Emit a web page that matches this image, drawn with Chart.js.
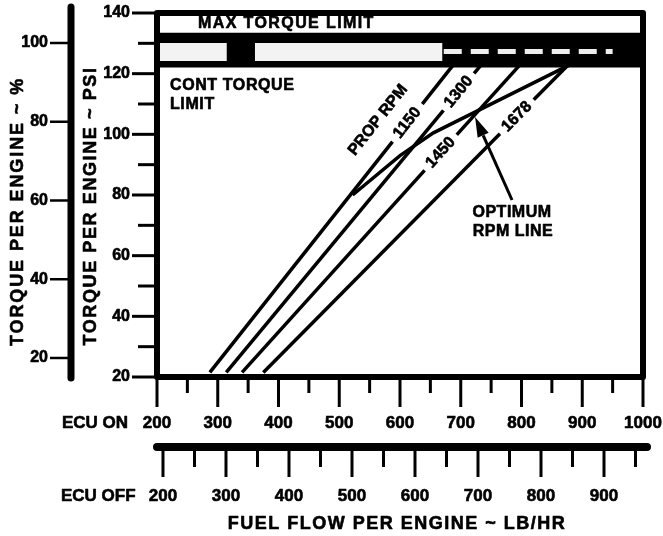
<!DOCTYPE html>
<html>
<head>
<meta charset="utf-8">
<script src="https://cdn.jsdelivr.net/npm/chart.js@4.4.0/dist/chart.umd.min.js"></script>
<style>
  html, body { margin: 0; padding: 0; background: #fff; }
  #wrap { width: 663px; height: 536px; }
</style>
</head>
<body>
<div id="wrap"><canvas id="chart"></canvas></div>
<script>
// prop rpm lines: fuel flow (lb/hr, ECU ON) vs torque (psi), end points
var rpmNames = ['1150', '1300', '1450', '1678'];
var rpmFlowLow = [287, 314, 340, 375];
var rpmFlowHigh = [690, 736, 800, 880];
var rpmTorqueLow = [21.5, 21.5, 21.5, 21.5];
var rpmTorqueHigh = [123.5, 123.5, 123.5, 123.5];

var optimumFlow = [522, 600, 655, 720, 880];
var optimumTorque = [80, 93, 100.5, 107, 123];

// torque limits (psi)
var maxTorqueLimit = 133.5;
var contTorqueLimit = 122;
var stripeFlowFrom = [204, 361];
var stripeFlowTo = [315, 670];

// axis ticks
var psiTicks = [20, 30, 40, 50, 60, 70, 80, 90, 100, 110, 120, 130, 140];
var pctTicks = [20, 40, 60, 80, 100];
var ecuOnTicks = [200, 250, 300, 350, 400, 450, 500, 550, 600, 650, 700, 750, 800, 850, 900, 950, 1000];
var ecuOffTicks = [200, 250, 300, 350, 400, 450, 500, 550, 600, 650, 700, 750, 800, 850, 900, 950];

// where the text labels sit along each rpm line (torque, psi)
var rpmLabelTorque = [103.8, 114, 94, 105.8];

var FONT = '"Liberation Sans", Arial, sans-serif';

function put(ctx, s, x, y, size, align, spacing) {
  ctx.font = 'bold ' + size + 'px ' + FONT;
  ctx.letterSpacing = (spacing || 0) + 'px';
  ctx.textAlign = align || 'center';
  ctx.textBaseline = 'middle';
  ctx.fillText(s, x, y);
  // the scanned print is heavier than a plain bold face
  ctx.lineWidth = 0.6;
  ctx.lineJoin = 'round';
  ctx.strokeText(s, x, y);
}

function putTurned(ctx, s, x, y, size, angle, spacing) {
  ctx.save();
  ctx.translate(x, y);
  ctx.rotate(angle);
  put(ctx, s, 0, 0, size, 'center', spacing);
  ctx.restore();
}

function seg(ctx, x1, y1, x2, y2, w) {
  ctx.lineWidth = w;
  ctx.beginPath();
  ctx.moveTo(x1, y1);
  ctx.lineTo(x2, y2);
  ctx.stroke();
}

var decor = {
  id: 'decor',
  afterDatasetsDraw: function (chart) {
    var ctx = chart.ctx;
    var a = chart.chartArea;
    var sx = chart.scales.x, sy = chart.scales.y;
    var sx2 = chart.scales.x2, sy2 = chart.scales.y2;
    ctx.save();
    ctx.strokeStyle = '#000';
    ctx.fillStyle = '#000';
    ctx.lineCap = 'butt';

    // rpm labels breaking the lines
    rpmNames.forEach(function (n, i) {
      var t = rpmLabelTorque[i];
      var f = rpmFlowLow[i] + (t - rpmTorqueLow[i]) * (rpmFlowHigh[i] - rpmFlowLow[i]) / (rpmTorqueHigh[i] - rpmTorqueLow[i]);
      var px = sx.getPixelForValue(f), py = sy.getPixelForValue(t);
      var ang = Math.atan2(sy.getPixelForValue(rpmTorqueHigh[i]) - sy.getPixelForValue(rpmTorqueLow[i]),
        sx.getPixelForValue(rpmFlowHigh[i]) - sx.getPixelForValue(rpmFlowLow[i]));
      ctx.save();
      ctx.translate(px, py);
      ctx.rotate(ang);
      ctx.fillStyle = '#fff';
      ctx.fillRect(-24, -7, 48, 14);
      ctx.restore();
      putTurned(ctx, n, px, py, 16, ang, 0);
      if (i === 0) {
        putTurned(ctx, 'PROP RPM', sx.getPixelForValue(563.8), sy.getPixelForValue(104.7), 16, ang, 0);
      }
    });

    // arrow to the optimum line
    var tx = sx.getPixelForValue(784.4), ty = sy.getPixelForValue(78.35);
    var hx = sx.getPixelForValue(723.5), hy = sy.getPixelForValue(105.7);
    var ang2 = Math.atan2(hy - ty, hx - tx);
    var bx = hx - 20 * Math.cos(ang2), by = hy - 20 * Math.sin(ang2);
    seg(ctx, tx, ty, bx, by, 3);
    ctx.beginPath();
    ctx.moveTo(hx, hy);
    ctx.lineTo(bx + 6 * Math.sin(ang2), by - 6 * Math.cos(ang2));
    ctx.lineTo(bx - 6 * Math.sin(ang2), by + 6 * Math.cos(ang2));
    ctx.closePath();
    ctx.fill();

    put(ctx, 'OPTIMUM', sx.getPixelForValue(784.4), sy.getPixelForValue(74.2), 16, 'center', 0.5);
    put(ctx, 'RPM LINE', sx.getPixelForValue(786), sy.getPixelForValue(67.8), 16, 'center', 0.5);
    put(ctx, 'MAX TORQUE LIMIT', sx.getPixelForValue(413), sy.getPixelForValue(136.5), 16, 'center', 1.4);
    put(ctx, 'CONT TORQUE', sx.getPixelForValue(221.4), sy.getPixelForValue(116.1), 16, 'left', 0.6);
    put(ctx, 'LIMIT', sx.getPixelForValue(221.4), sy.getPixelForValue(109.7), 16, 'left', 0.6);

    // plot frame
    ctx.lineWidth = 6;
    ctx.strokeRect(a.left, a.top, a.right - a.left, a.bottom - a.top);

    // psi axis
    psiTicks.forEach(function (v) {
      var y = sy.getPixelForValue(v);
      var major = v % 20 === 0;
      seg(ctx, a.left - (major ? 25 : 19), y, a.left, y, 3);
      if (major) put(ctx, String(v), a.left - 27, y, 16, 'right');
    });

    // percent axis
    ctx.lineCap = 'round';
    seg(ctx, 71, a.top - 6, 71, a.bottom + 1, 7);
    ctx.lineCap = 'butt';
    pctTicks.forEach(function (v) {
      var y = sy2.getPixelForValue(v);
      seg(ctx, 50, y, 70, y, 2.5);
      put(ctx, String(v), 48, y, 16, 'right');
    });

    // ECU ON axis
    ecuOnTicks.forEach(function (v) {
      var x = sx.getPixelForValue(v);
      var major = v % 100 === 0;
      seg(ctx, x, a.bottom, x, a.bottom + (major ? 30 : 16), 3);
      if (major) put(ctx, String(v), x, a.bottom + 46, 17, 'center');
    });
    put(ctx, 'ECU ON', 62, a.bottom + 46, 17, 'left');

    // ECU OFF axis
    var barY = a.bottom + 70;
    ctx.lineCap = 'round';
    seg(ctx, a.left, barY, a.right + 4, barY, 8);
    ctx.lineCap = 'butt';
    ecuOffTicks.forEach(function (v) {
      var x = sx2.getPixelForValue(v);
      var major = v % 100 === 0;
      seg(ctx, x, barY, x, barY + (major ? 30 : 20), 3);
      if (major) put(ctx, String(v), x, barY + 49, 17, 'center');
    });
    put(ctx, 'ECU OFF', 61, barY + 49, 17, 'left');

    // axis titles
    put(ctx, 'FUEL FLOW PER ENGINE ~ LB/HR', 397, 524, 18, 'center', 1.5);
    putTurned(ctx, 'TORQUE PER ENGINE ~ %', 18, 211.5, 18, -Math.PI / 2, 1.9);
    putTurned(ctx, 'TORQUE PER ENGINE ~ PSI', 91, 206, 18, -Math.PI / 2, 1.6);

    ctx.restore();
  }
};

var datasets = [];

// limit band
datasets.push({
  data: [{x: 200, y: maxTorqueLimit}, {x: 1000, y: maxTorqueLimit}],
  borderWidth: 0, pointRadius: 0, backgroundColor: '#000',
  fill: {value: contTorqueLimit}, order: 5
});
stripeFlowFrom.forEach(function (f, i) {
  datasets.push({
    data: [{x: f, y: 130.1}, {x: stripeFlowTo[i], y: 130.1}],
    borderWidth: 0, pointRadius: 0, backgroundColor: '#f3f3f3',
    fill: {value: 124.2}, order: 4
  });
});
datasets.push({
  data: [{x: 672, y: 127.3}, {x: 950, y: 127.3}],
  borderWidth: 5, borderColor: '#eee', borderDash: [18, 9], pointRadius: 0, fill: false, order: 4
});

// rpm lines
rpmNames.forEach(function (n, i) {
  datasets.push({
    label: n,
    data: [{x: rpmFlowLow[i], y: rpmTorqueLow[i]}, {x: rpmFlowHigh[i], y: rpmTorqueHigh[i]}],
    borderColor: '#000', borderWidth: 3.5, pointRadius: 0, fill: false, order: 1
  });
});

// optimum rpm line
datasets.push({
  label: 'optimum',
  data: optimumFlow.map(function (f, i) { return {x: f, y: optimumTorque[i]}; }),
  borderColor: '#000', borderWidth: 3.5, pointRadius: 0, fill: false, order: 1
});

new Chart(document.getElementById('chart'), {
  type: 'line',
  data: { datasets: datasets },
  options: {
    responsive: true,
    maintainAspectRatio: false,
    animation: false,
    devicePixelRatio: 1,
    layout: { padding: { left: 157, right: 20, top: 13, bottom: 159 } },
    plugins: { legend: { display: false }, tooltip: { enabled: false } },
    scales: {
      x: { type: 'linear', min: 200, max: 1000, display: false },
      x2: { type: 'linear', min: 190.5, max: 961.9, display: false },
      y: { type: 'linear', min: 20, max: 140, display: false },
      y2: { type: 'linear', min: 15.17, max: 107.62, display: false }
    }
  },
  plugins: [decor]
});
</script>
</body>
</html>
